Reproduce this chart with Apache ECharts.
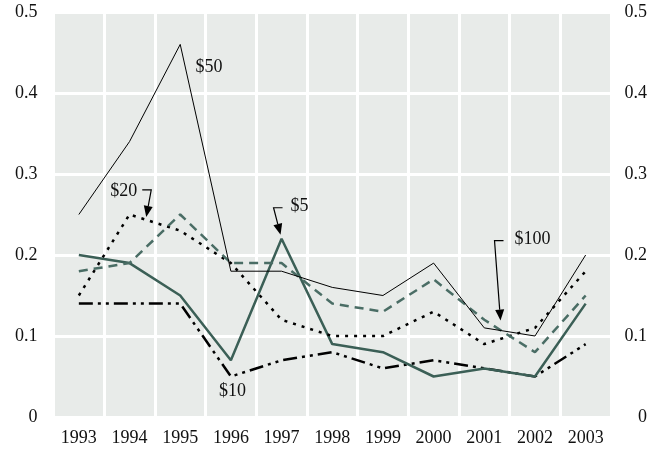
<!DOCTYPE html>
<html>
<head>
<meta charset="utf-8">
<script src="https://cdn.jsdelivr.net/npm/echarts@6/dist/echarts.min.js"></script>
<style>
html,body{margin:0;padding:0;background:#fff;}
#chart{width:663px;height:454px;}
</style>
</head>
<body>
<div id="chart"></div>
<script>
const years = ['1993','1994','1995','1996','1997','1998','1999','2000','2001','2002','2003'];
const s50  = [0.25,0.34,0.46,0.18,0.18,0.16,0.15,0.19,0.11,0.10,0.20];
const s20  = [0.15,0.25,0.23,0.19,0.12,0.10,0.10,0.13,0.09,0.11,0.18];
const s100 = [0.18,0.19,0.25,0.19,0.19,0.14,0.13,0.17,0.12,0.08,0.15];
const s5   = [0.20,0.19,0.15,0.07,0.22,0.09,0.08,0.05,0.06,0.05,0.14];
const s10  = [0.14,0.14,0.14,0.05,0.07,0.08,0.06,0.07,0.06,0.05,0.09];
const yTicks = [0, 0.1, 0.2, 0.3, 0.4, 0.5];

// annotation labels: text, category position, value
const labelNames = ['$50', '$20', '$5', '$100', '$10'];
const labelX = [2.57, 1.33, 3.98, 8.32, 3.03];
const labelV = [0.432, 0.247, 0.225, 0.119, 0.032];

const FONT = '"Liberation Serif", "DejaVu Serif", serif';
const GREEN = '#3b5f56';
const GREEN2 = '#4a6d65';

const chart = echarts.init(document.getElementById('chart'));

const yAxisBase = {
  type: 'value', min: 0, max: 0.5, interval: 0.1,
  axisLine: {show: false}, axisTick: {show: false},
  axisLabel: {
    fontFamily: FONT, fontSize: 18, color: '#111',
    formatter: v => (yTicks.indexOf(Math.round(v*10)/10) >= 0 ? String(Math.round(v*10)/10) : '')
  }
};

chart.setOption({
  animation: false,
  backgroundColor: '#fff',
  grid: {left: 53.5, right: 52, top: 12, bottom: 37, show: true, backgroundColor: '#e8ebe9', borderWidth: 0},
  xAxis: {
    type: 'category', data: years, boundaryGap: true,
    axisLine: {show: false}, axisTick: {show: false},
    splitLine: {show: true, lineStyle: {color: '#fff', width: 3}},
    axisLabel: {fontFamily: FONT, fontSize: 18, color: '#111', margin: 12}
  },
  yAxis: [
    Object.assign({}, yAxisBase, {
      position: 'left',
      splitLine: {show: true, lineStyle: {color: '#fff', width: 3}},
      axisLabel: Object.assign({}, yAxisBase.axisLabel, {margin: 16})
    }),
    Object.assign({}, yAxisBase, {
      position: 'right',
      splitLine: {show: false},
      axisLabel: Object.assign({}, yAxisBase.axisLabel, {margin: 36, align: 'right'})
    })
  ],
  series: [
    {name: '$10', type: 'line', data: s10, symbol: 'none', z: 3,
     lineStyle: {color: '#000', width: 2.5, type: [14, 5, 3, 5, 3, 5]}},
    {name: '$5', type: 'line', data: s5, symbol: 'none', z: 4,
     lineStyle: {color: GREEN, width: 2.5}},
    {name: '$20', type: 'line', data: s20, symbol: 'none', z: 5,
     lineStyle: {color: '#000', width: 2.5, type: [3, 6]}},
    {name: '$100', type: 'line', data: s100, symbol: 'none', z: 5,
     lineStyle: {color: GREEN2, width: 2.5, type: [9, 6]}},
    {name: '$50', type: 'line', data: s50, symbol: 'none', z: 6,
     lineStyle: {color: '#000', width: 1}}
  ]
});

function px(i, v) {
  const i0 = Math.floor(i), i1 = Math.min(i0 + 1, years.length - 1);
  const a = chart.convertToPixel({xAxisIndex: 0, yAxisIndex: 0}, [i0, v]);
  const b = chart.convertToPixel({xAxisIndex: 0, yAxisIndex: 0}, [i1, v]);
  const t = i - i0;
  return [a[0] + (b[0] - a[0]) * t, a[1]];
}

function arrow(tip, corner, end) {
  const dx = tip[0] - corner[0], dy = tip[1] - corner[1];
  const len = Math.sqrt(dx*dx + dy*dy);
  const ux = dx/len, uy = dy/len;
  const L = 11, W = 4.5;
  const bx = tip[0] - ux*L, by = tip[1] - uy*L;
  return [
    {type: 'polyline', shape: {points: [end, corner, [bx, by]]}, style: {stroke: '#000', lineWidth: 1.2, fill: null}, z: 20},
    {type: 'polygon', shape: {points: [tip, [bx - uy*W, by + ux*W], [bx + uy*W, by - ux*W]]}, style: {fill: '#000'}, z: 20}
  ];
}

function textEl(txt, p, align) {
  return {type: 'text', x: p[0], y: p[1], z: 20,
    style: {text: txt, fontFamily: FONT, fontSize: 18, fill: '#111', align: align, verticalAlign: 'middle'}};
}

const els = [];
els.push(textEl(labelNames[0], px(labelX[0], labelV[0]), 'center'));
let t = px(labelX[1], labelV[1]);
els.push(...arrow(t, [t[0] + 5, t[1] - 27], [t[0] - 4, t[1] - 27]));
els.push(textEl(labelNames[1], [t[0] - 9, t[1] - 26], 'right'));
t = px(labelX[2], labelV[2]);
els.push(...arrow(t, [t[0] - 7, t[1] - 27], [t[0] + 2, t[1] - 27]));
els.push(textEl(labelNames[2], [t[0] + 10, t[1] - 28], 'left'));
t = px(labelX[3], labelV[3]);
els.push(...arrow(t, [t[0] - 6, t[1] - 80], [t[0] + 3, t[1] - 80]));
els.push(textEl(labelNames[3], [t[0] + 14, t[1] - 81], 'left'));
els.push(textEl(labelNames[4], px(labelX[4], labelV[4]), 'center'));

chart.setOption({graphic: {elements: els}});
</script>
</body>
</html>
